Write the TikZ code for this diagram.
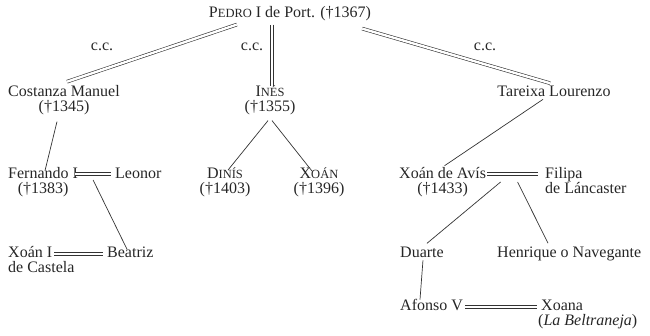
\documentclass[tikz,border=0pt]{standalone}
\usepackage{fontspec}
\setmainfont{Liberation Serif}
\usetikzlibrary{calc}
\newcommand\fakesc[2]{#1{\fontsize{12.5}{12}\selectfont #2}}
\begin{document}
\begin{tikzpicture}[x=1pt, y=-1pt, font=\fontsize{16}{15}\selectfont,
      person/.style={inner sep=0pt, text=black!85},
      wed/.style={draw=black!80, line width=0.6pt, double, double distance=2.4pt},
      kin/.style={draw=black!80, line width=0.7pt}]
   \useasboundingbox (0, 0) rectangle (650, 336);
   \node[person, anchor=base] (pedro) at (290, 18) {\fakesc{P}{EDRO} I de Port. (†1367)};
   \node[person, anchor=base] (cc1) at (102, 51) {c.c.};
   \node[person, anchor=base] (cc2) at (252, 51) {c.c.};
   \node[person, anchor=base] (cc3) at (485, 51) {c.c.};
   \node[person, anchor=base, align=center] (costanza) at (64, 112) {Costanza Manuel\\(†1345)};
   \node[person, anchor=base, align=center] (ines) at (270, 112) {\fakesc{I}{NÉS}\\(†1355)};
   \node[person, anchor=base] (tareixa) at (554, 97) {Tareixa Lourenzo};
   \node[person, anchor=base west, align=center] (fernando) at (8, 194) {Fernando I\\(†1383)};
   \node[person, anchor=base west] (leonor) at (115, 179) {Leonor};
   \node[person, anchor=base, align=center] (dinis) at (225, 194) {\fakesc{D}{INÍS}\\(†1403)};
   \node[person, anchor=base, align=center] (xoan) at (319, 194) {\fakesc{X}{OÁN}\\(†1396)};
   \node[person, anchor=base west, align=center] (xoanavis) at (399, 194) {Xoán de Avís\\(†1433)};
   \node[person, anchor=base west, align=left] (filipa) at (545, 194) {Filipa\\de Láncaster};
   \node[person, anchor=base west, align=left] (xoani) at (8, 273) {Xoán I\\de Castela};
   \node[person, anchor=base west] (beatriz) at (107, 258) {Beatriz};
   \node[person, anchor=base west] (duarte) at (400, 258) {Duarte};
   \node[person, anchor=base west] (henrique) at (497, 258) {Henrique o Navegante};
   \node[person, anchor=base west] (afonso) at (400, 311) {Afonso V};
   \node[person, anchor=base west, align=left] (xoana) at (538, 326) {\hspace{3pt}Xoana\\(\textit{La Beltraneja})};
   \draw[wed] ($(pedro.south west)+(28, 3)$) -- ($(costanza.north)+(3, -4)$);
   \draw[wed] ($(pedro.south west)+(63, 3)$) coordinate (down) -- (down |- ines.north);
   \draw[wed] ($(pedro.south east)+(-9, 7)$) -- ($(tareixa.north)+(-4, -3)$);
   \draw[kin] ($(costanza.south)+(-7, 6)$) -- ($(fernando.north west)+(37, 3)$);
   \draw[kin] ($(ines.south)+(-2, 5)$) -- ($(dinis.north)+(3, 2)$);
   \draw[kin] ($(ines.south)+(2, 5)$) -- ($(xoan.north)+(-7, 3)$);
   \draw[kin] ($(tareixa.south)+(-11, 2)$) -- ($(xoanavis.north)+(2, -2)$);
   \draw[wed] ($(fernando.base east)+(-3, -20)$) coordinate (fl1) -- ($(leonor.base west)+(-4, -5)$) coordinate (fl2);
   \draw[kin] ($(fl1)!.5!(fl2)+(0, 6)$) -- ($(beatriz.north west)+(20, 2)$);
   \draw[wed] ($(xoani.base west)+(46, -19)$) -- ($(beatriz.base west)+(-4, -4)$);
   \draw[wed] ($(xoanavis.base east)+(1, -20)$) coordinate (xf1) -- ($(filipa.base west)+(-7, -20)$) coordinate (xf2);
   \draw[kin] ($(xf1)!.5!(xf2)+(-12, 8)$) -- ($(duarte.north)+(5, -4)$);
   \draw[kin] ($(xf1)!.5!(xf2)+(5, 8)$) -- ($(henrique.north west)+(51, -4)$);
   \draw[kin] ($(duarte.south)+(1, 2)$) -- ($(afonso.north west)+(20, 0)$);
   \draw[wed] ($(afonso.base east)+(2, -4)$) -- ($(xoana.base west)+(-1, -19)$);
\end{tikzpicture}
\end{document}
